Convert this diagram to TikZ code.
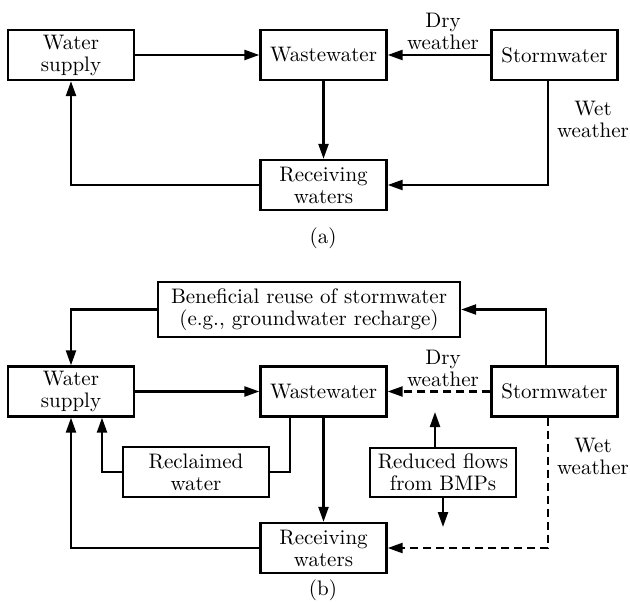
\documentclass[tikz,border=0pt]{standalone}
\usetikzlibrary{arrows.meta}
\begin{document}
\begin{tikzpicture}[x=0.5pt,y=-0.5pt,
  font=\fontsize{10.5}{11}\selectfont,
  box/.style={draw, line width=1.15pt, align=center, inner sep=0pt},
  std/.style={box, minimum width=63pt, minimum height=25pt},
  arr/.style={line width=1.15pt, -{Triangle[length=7.5pt,width=5pt]}},
  dsh/.style={dash pattern=on 4pt off 2.5pt},
  lbl/.style={align=center, inner sep=0pt}]
\useasboundingbox (0,0) rectangle (630,603);
% ---------- (a)
\node[std] (ws) at (71,55) {Water\\supply};
\node[std] (ww) at (323.5,55) {Wastewater};
\node[std] (sw) at (554.5,55) {Stormwater};
\node[std] (rw) at (323.5,185) {Receiving\\waters};
\draw[arr] (ws) -- (ww);
\draw[arr] (sw) -- (ww);
\node[lbl] (dry) at (443,31) {Dry\\weather};
\draw[arr] (ww) -- (rw);
\draw[arr] ([xshift=-3.25pt]sw.south) |- (rw.east);
\node[lbl] (wet) at (593,119) {Wet\\weather};
\draw[arr] (rw.west) -| (ws.south);
\node[lbl] (capa) at (323,238) {(a)};
% ---------- (b)
\node[box, minimum width=151pt, minimum height=27.5pt] (ben) at (309,309.5) {Beneficial reuse of stormwater\\(e.g., groundwater recharge)};
\node[std] (ws2) at (71,391.5) {Water\\supply};
\node[std] (ww2) at (323.5,391.5) {Wastewater};
\node[std] (sw2) at (554.5,391.5) {Stormwater};
\node[box, minimum width=73pt, minimum height=25pt] (rec) at (196,472) {Reclaimed\\water};
\node[std] (rw2) at (323.5,548) {Receiving\\waters};
\node[box, minimum width=73pt, minimum height=24.5pt] (red) at (443,472.5) {Reduced flows\\from BMPs};
\draw[arr] (ben.west) -| (ws2.north);
\draw[arr] ([xshift=-4.25pt]sw2.north) |- (ben.east);
\draw[arr] (ws2) -- (ww2);
\draw[arr, dsh] (sw2) -- (ww2);
\node[lbl] (dry2) at (443,368) {Dry\\weather};
\draw[line width=1.15pt] ([xshift=-16.75pt]ww2.south) |- (rec.east);
\draw[arr] (rec.west) -| ([xshift=15.5pt]ws2.south);
\draw[arr] (ww2) -- (rw2);
\draw[arr] (rw2.west) -| (ws2.south);
\draw[arr, dsh] ([xshift=-3.25pt]sw2.south) |- (rw2.east);
\node[lbl] (wet2) at (593,456) {Wet\\weather};
\coordinate (upend) at (435,412);
\coordinate (downend) at (443,527);
\draw[arr] (red.north -| upend) -- (upend);
\draw[arr] (red.south -| downend) -- (downend);
\node[lbl] (capb) at (323,590) {(b)};
\end{tikzpicture}
\end{document}
